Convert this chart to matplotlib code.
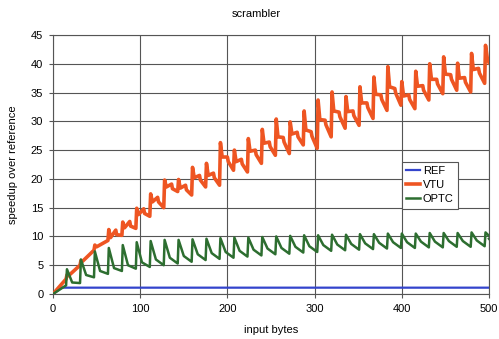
import matplotlib
matplotlib.use('Agg')
import matplotlib.pyplot as plt

# bytes where each new 16-byte block starts (the saw teeth)
tooth_start = list(range(16, 497, 16))

# VTU: value at tooth start (peak), 2 bytes later (knee), mid-block bump, and just before the next tooth (trough)
vtu_first_trough = 2.6
vtu_peak = [3.3, 5.8, 8.5, 11.2, 12.5, 14.9, 17.4, 19.8, 19.9, 22.0, 22.7, 26.3, 25.0, 27.0,
            28.6, 30.4, 29.9, 31.8, 33.7, 35.1, 34.3, 36.0, 37.7, 39.5, 36.9, 38.7, 40.0,
            41.2, 40.1, 41.8, 43.2]
vtu_knee = [3.2, 5.7, 8.2, 9.8, 11.5, 13.8, 16.0, 18.6, 18.4, 20.2, 20.6, 23.8, 23.0, 24.8,
            26.2, 27.3, 27.8, 28.5, 30.3, 31.8, 31.7, 33.2, 34.7, 36.0, 34.4, 36.1, 37.3,
            38.2, 37.5, 39.0, 41.0]
# no visible mid-block bump in the first few (step-like) blocks
vtu_bump = [None, None, None, 10.3, 11.8, 14.0, 16.0, 18.3, 18.1, 19.8, 20.2, 23.0, 22.6, 24.2,
            25.6, 26.4, 27.3, 27.4, 29.4, 30.8, 31.0, 32.4, 33.8, 34.9, 33.8, 35.4, 36.5,
            37.3, 36.8, 38.4, None]
vtu_trough = [5.0, 7.6, 9.3, 10.2, 11.4, 13.5, 15.0, 17.8, 17.2, 18.6, 18.9, 21.5, 21.2, 22.7,
              24.1, 24.4, 25.9, 25.3, 27.3, 28.8, 29.3, 30.5, 31.9, 32.8, 32.2, 33.7, 34.8,
              35.4, 35.1, 36.6, 40.2]

# OPTC: peak at tooth start, knee 6 bytes later, trough before next tooth
optc_first_trough = 1.5
optc_peak = [4.3, 6.0, 7.4, 8.0, 8.5, 9.0, 9.2, 9.4, 9.4, 9.5, 9.6, 9.7, 9.8, 9.8, 9.9, 10.0,
             10.1, 10.2, 10.2, 10.3, 10.3, 10.4, 10.4, 10.5, 10.5, 10.5, 10.6, 10.6, 10.6,
             10.7, 10.7]
optc_knee = [2.0, 3.3, 4.0, 4.5, 5.0, 5.5, 6.0, 6.3, 6.6, 6.9, 7.1, 7.3, 7.5, 7.7, 7.9, 8.0,
             8.2, 8.3, 8.5, 8.6, 8.7, 8.8, 8.9, 9.0, 9.0, 9.1, 9.1, 9.2, 9.2, 9.3, 9.8]
optc_trough = [1.9, 2.9, 3.5, 4.0, 4.4, 4.7, 5.0, 5.3, 5.6, 5.9, 6.1, 6.3, 6.5, 6.7, 6.9, 7.0,
               7.2, 7.3, 7.5, 7.6, 7.7, 7.8, 7.9, 8.0, 8.0, 8.1, 8.1, 8.2, 8.2, 8.3, 9.6]

# REF stays at roughly one after the first few bytes
ref_x = [0, 10, 500]
ref_y = [0.0, 1.1, 1.1]

end_byte = 500


def saw_series(first_trough, peaks, knees, troughs, knee_offset, bumps=None):
    xs, ys = [0, tooth_start[0] - 1], [0.0, first_trough]
    for i, start in enumerate(tooth_start):
        xs += [start, start + knee_offset]
        ys += [peaks[i], knees[i]]
        if bumps is not None and bumps[i] is not None:
            # small second spike half way through the block
            xs += [start + 8, start + 9]
            ys += [bumps[i] + 0.8, bumps[i]]
        last = i == len(tooth_start) - 1
        xs.append(end_byte if last else tooth_start[i + 1] - 1)
        ys.append(troughs[i])
    return xs, ys


def main():
    plt.rcParams['font.family'] = 'Liberation Sans'
    plt.rcParams['font.size'] = 8

    fig = plt.figure(figsize=(4.99, 3.39), dpi=100)
    ax = fig.add_axes([53 / 499, 45 / 339, 436 / 499, 259 / 339])

    vx, vy = saw_series(vtu_first_trough, vtu_peak, vtu_knee, vtu_trough, 2, vtu_bump)
    ox, oy = saw_series(optc_first_trough, optc_peak, optc_knee, optc_trough, 6)

    ax.plot(ref_x, ref_y, color='#3344cc', linewidth=1.6, label='REF', zorder=3)
    ax.plot(vx, vy, color='#ee5522', linewidth=2.6, label='VTU', zorder=3)
    ax.plot(ox, oy, color='#2d6e30', linewidth=1.8, label='OPTC', zorder=3)

    ax.set_xlim(0, 500)
    ax.set_ylim(0, 45)
    ax.set_xticks(range(0, 501, 100))
    ax.set_yticks(range(0, 46, 5))
    ax.grid(True, color='#555555', linewidth=0.8)
    ax.set_axisbelow(True)
    ax.tick_params(direction='out', length=3, width=0.8, color='#555555', pad=4)
    for s in ax.spines.values():
        s.set_color('#555555')
        s.set_linewidth(0.8)

    ax.set_xlabel('input bytes', labelpad=8)
    ax.set_ylabel('speedup over reference', labelpad=9)
    fig.text(256 / 499, 1 - 14 / 339, 'scrambler', ha='center', va='center', fontsize=8)

    leg = ax.legend(loc='upper left', bbox_to_anchor=(0.80, 0.51), borderaxespad=0,
                    handlelength=1.2, handletextpad=0.3, labelspacing=0.35, borderpad=0.4,
                    fancybox=False, framealpha=1)
    leg.get_frame().set_edgecolor('#555555')
    leg.get_frame().set_linewidth(0.8)

    fig.savefig('out.png', dpi=100)
    plt.close(fig)


if __name__ == '__main__':
    main()
